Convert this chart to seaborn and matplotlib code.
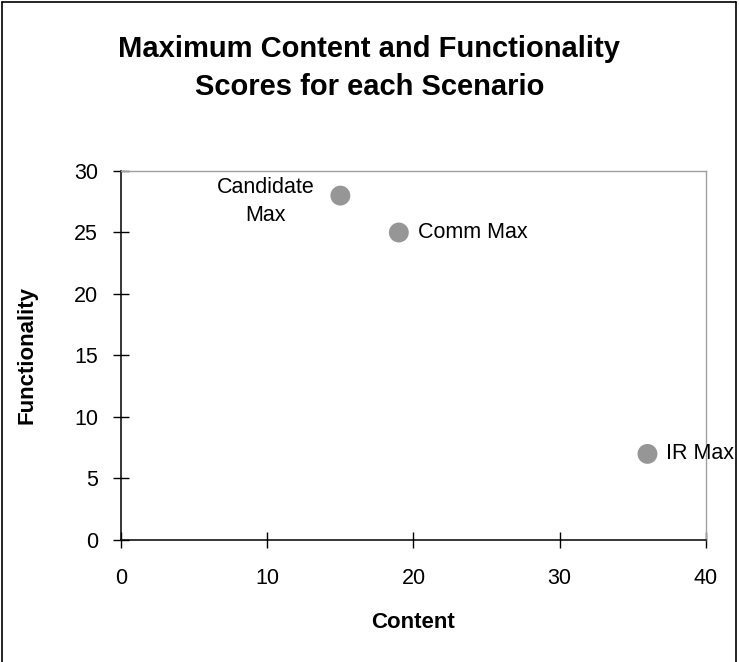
import matplotlib
matplotlib.use("Agg")
import matplotlib.pyplot as plt
import seaborn as sns
import pandas as pd

# Scenario scores
scenarios = ["Candidate Max", "Comm Max", "IR Max"]
content = [15, 19, 36]
functionality = [28, 25, 7]
point_labels = ["Candidate\nMax", "Comm Max", "IR Max"]

x_ticks = [0, 10, 20, 30, 40]
y_ticks = [0, 5, 10, 15, 20, 25, 30]

sns.set_theme(style="ticks", rc={"text.color": "black",
                                 "axes.labelcolor": "black",
                                 "xtick.color": "black",
                                 "ytick.color": "black"})
plt.rcParams["font.family"] = ["Liberation Sans", "DejaVu Sans"]

df = pd.DataFrame({"Scenario": scenarios, "Content": content,
                   "Functionality": functionality})

fig = plt.figure(figsize=(7.39, 6.62), dpi=100)
ax = fig.add_axes([0.1637, 0.1843, 0.7916, 0.5574])

sns.scatterplot(data=df, x="Content", y="Functionality", ax=ax,
                color="#969696", s=205, edgecolor="none", legend=False,
                clip_on=False, zorder=3)

ax.set_xlim(0, 40)
ax.set_ylim(0, 30)
ax.set_xticks(x_ticks)
ax.set_yticks(y_ticks)
ax.tick_params(axis="both", direction="inout", length=11, width=1,
               color="black", labelsize=15.5, labelcolor="black")
ax.tick_params(axis="x", pad=15)
ax.tick_params(axis="y", pad=11)

for side in ["left", "bottom"]:
    ax.spines[side].set_color("black")
    ax.spines[side].set_linewidth(1.1)
for side in ["top", "right"]:
    ax.spines[side].set_visible(True)
    ax.spines[side].set_color("#a0a0a0")
    ax.spines[side].set_linewidth(1.0)

ax.set_xlabel("Content", fontsize=16, fontweight="bold", labelpad=16)
ax.set_ylabel("Functionality", fontsize=16, fontweight="bold", labelpad=26)

# Point annotations
offsets = [(-54, -4), (14, 0), (13.5, 0)]
aligns = ["center", "left", "left"]
for lbl, cx, fy, off, ha in zip(point_labels, content, functionality, offsets, aligns):
    ax.annotate(lbl, (cx, fy), xytext=off, textcoords="offset points",
                ha=ha, va="center", fontsize=15.5, linespacing=1.45,
                annotation_clip=False)

fig.text(0.5, 0.897, "Maximum Content and Functionality\nScores for each Scenario",
         ha="center", va="center", fontsize=21, fontweight="bold",
         linespacing=1.45)

# Outer chart frame (open at the bottom)
frame_kw = dict(color="black", linewidth=1.2, transform=fig.transFigure)
fig.add_artist(plt.Line2D([0.003, 0.003], [0, 0.997], **frame_kw))
fig.add_artist(plt.Line2D([0.003, 0.996], [0.997, 0.997], **frame_kw))
fig.add_artist(plt.Line2D([0.996, 0.996], [0, 0.997], **frame_kw))

fig.savefig("out.png", dpi=100, facecolor="white")
